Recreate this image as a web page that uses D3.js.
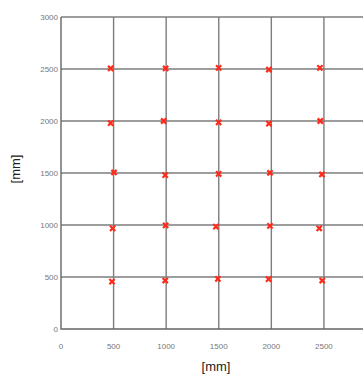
<!DOCTYPE html>
<html>
<head>
<meta charset="utf-8">
<script src="https://cdn.jsdelivr.net/npm/d3@7"></script>
<style>
  body { margin: 0; background: #fff; }
  svg { display: block; }
</style>
</head>
<body>
<div id="chart"></div>
<script>
// measured points, in mm
const xs = [472, 995, 1499, 1977, 2462,
            472, 976, 1499, 1977, 2465,
            504, 991, 1499, 1987, 2481,
            491, 995, 1473, 1987, 2455,
            485, 991, 1492, 1974, 2484];
const ys = [2505, 2505, 2511, 2495, 2511,
            1980, 2000, 1987, 1975, 2000,
            1505, 1479, 1492, 1502, 1486,
            967, 997, 984, 991, 967,
            456, 466, 482, 479, 466];
const xTicks = [0, 500, 1000, 1500, 2000, 2500];
const yTicks = [0, 500, 1000, 1500, 2000, 2500, 3000];

const width = 363, height = 376;
const svg = d3.select("#chart").append("svg")
    .attr("width", width)
    .attr("height", height)
    .attr("font-family", "'Liberation Sans', Arial, sans-serif");

// plot runs past the right edge of the window, like the original
const x = d3.scaleLinear().domain([0, 3000]).range([61, 376.5]);
const y = d3.scaleLinear().domain([0, 3000]).range([329, 17]);

const grid = svg.append("g")
    .attr("stroke", "#7d7d7d")
    .attr("stroke-width", 1.4);

grid.selectAll("line.v")
  .data(xTicks.filter(d => d > 0))
  .join("line")
    .attr("class", "v")
    .attr("x1", d => x(d)).attr("x2", d => x(d))
    .attr("y1", y(3000)).attr("y2", y(0));

grid.selectAll("line.h")
  .data(yTicks.filter(d => d > 0))
  .join("line")
    .attr("class", "h")
    .attr("x1", x(0)).attr("x2", width)
    .attr("y1", d => y(d)).attr("y2", d => y(d));

// axes frame
svg.append("path")
    .attr("d", `M${x(0)},${y(3000)}V${y(0)}H${width}`)
    .attr("fill", "none")
    .attr("stroke", "#666")
    .attr("stroke-width", 1.4);

// tick labels
svg.append("g")
    .attr("font-size", 8)
    .attr("fill", "#777")
  .selectAll("text")
  .data(yTicks)
  .join("text")
    .attr("x", x(0) - 3)
    .attr("y", d => y(d))
    .attr("dy", "0.35em")
    .attr("text-anchor", "end")
    .text(d => d);

svg.append("g")
    .attr("font-size", 8)
    .attr("fill", "#777")
  .selectAll("text")
  .data(xTicks)
  .join("text")
    .attr("x", d => x(d))
    .attr("y", 349)
    .attr("text-anchor", "middle")
    .text(d => d);

// axis titles
svg.append("text")
    .attr("x", 216)
    .attr("y", 371)
    .attr("text-anchor", "middle")
    .attr("font-size", 13)
    .attr("fill", "#222")
    .text("[mm]");

svg.append("text")
    .attr("transform", `translate(20,169) rotate(-90)`)
    .attr("text-anchor", "middle")
    .attr("font-size", 13)
    .attr("fill", "#222")
    .text("[mm]");

// red x markers
const s = 2.6;
svg.append("g")
    .attr("stroke", "#ff2a1a")
    .attr("stroke-width", 2.2)
  .selectAll("path")
  .data(d3.range(xs.length))
  .join("path")
    .attr("d", i => {
      const cx = x(xs[i]), cy = y(ys[i]);
      return `M${cx - s},${cy - s}L${cx + s},${cy + s}M${cx - s},${cy + s}L${cx + s},${cy - s}`;
    });
</script>
</body>
</html>
